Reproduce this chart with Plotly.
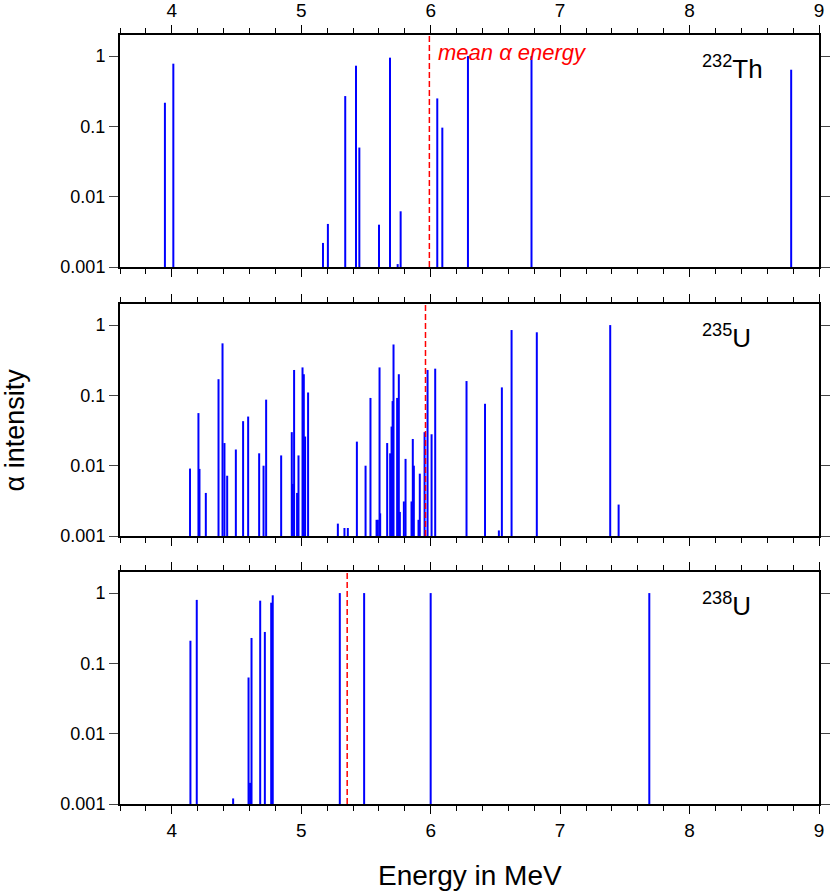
import plotly.graph_objects as go

# alpha lines per decay chain: energy (MeV) and relative intensity
th232_energy = [3.947, 4.012, 5.168, 5.206, 5.340, 5.423, 5.449, 5.601, 5.686,
                5.745, 5.768, 6.051, 6.090, 6.288, 6.779, 8.785]
th232_intensity = [0.217, 0.78, 0.0022, 0.0041, 0.27, 0.73, 0.05, 0.0040, 0.95,
                   0.0011, 0.0062, 0.25, 0.096, 1.0, 1.0, 0.64]

u235_energy = [4.141, 4.206, 4.214, 4.263, 4.361, 4.392, 4.407, 4.428, 4.495,
               4.551, 4.590, 4.675, 4.709, 4.729, 4.845, 4.927, 4.935, 4.945,
               4.968, 4.979, 5.010, 5.020, 5.030, 5.053, 5.283, 5.334, 5.360,
               5.430, 5.497, 5.535, 5.582, 5.592, 5.605, 5.610, 5.664, 5.687,
               5.698, 5.706, 5.713, 5.741, 5.754, 5.762, 5.793, 5.806, 5.852,
               5.862, 5.870, 5.906, 5.916, 5.953, 5.976, 6.007, 6.035, 6.277,
               6.420, 6.527, 6.550, 6.625, 6.820, 7.387, 7.452]
u235_intensity = [0.0091, 0.056, 0.009, 0.0041, 0.17, 0.55, 0.021, 0.0072, 0.017,
                  0.043, 0.050, 0.015, 0.010, 0.087, 0.014, 0.030, 0.0055, 0.23,
                  0.0041, 0.014, 0.25, 0.20, 0.026, 0.11, 0.0015, 0.0013, 0.0013,
                  0.022, 0.010, 0.092, 0.0017, 0.0017, 0.25, 0.0021, 0.021, 0.015,
                  0.036, 0.083, 0.53, 0.092, 0.20, 0.0022, 0.0031, 0.0125, 0.0031,
                  0.024, 0.010, 0.0017, 0.0077, 0.030, 0.23, 0.028, 0.24, 0.16,
                  0.076, 0.0012, 0.13, 0.85, 0.79, 1.0, 0.0028]

u238_energy = [4.144, 4.193, 4.474, 4.593, 4.605, 4.616, 4.683, 4.719, 4.768,
               4.780, 5.298, 5.486, 6.000, 7.689]
u238_intensity = [0.21, 0.80, 0.0012, 0.063, 0.002, 0.23, 0.78, 0.28, 0.73,
                  0.93, 1.0, 1.0, 1.0, 1.0]

mean_energy = [5.99, 5.96, 5.355]
isotopes = ["<sup>232</sup>Th", "<sup>235</sup>U", "<sup>238</sup>U"]

FLOOR = 0.001
FONT = "Liberation Sans, Arial, Helvetica, sans-serif"

panels = [(th232_energy, th232_intensity),
          (u235_energy, u235_intensity),
          (u238_energy, u238_intensity)]
domains = [[0.6983, 1.0], [0.3485, 0.6502], [0.0, 0.3017]]

fig = go.Figure()

for i, (energy, inten) in enumerate(panels):
    n = i + 1
    key = "" if n == 1 else str(n)
    xref, yref = f"x{key}", f"y{key}"

    xs, ys = [], []
    for e, v in zip(energy, inten):
        xs += [e, e, None]
        ys += [FLOOR, v, None]
    fig.add_trace(go.Scatter(
        x=xs, y=ys, mode="lines",
        line=dict(color="#0000ff", width=2),
        xaxis=xref, yaxis=yref,
        showlegend=False, hoverinfo="skip",
    ))

    fig.add_shape(type="line", xref=xref, yref=f"{yref} domain",
                  x0=mean_energy[i], x1=mean_energy[i], y0=0, y1=1,
                  line=dict(color="#ff0000", width=1.5, dash="6px,3px"))

    fig.add_annotation(x=0.83, y=0.86, xref=f"{xref} domain", yref=f"{yref} domain",
                       text=isotopes[i], showarrow=False, xanchor="left",
                       yanchor="middle", font=dict(family=FONT, size=26, color="black"))

    xaxis = dict(
        range=[3.6, 9], domain=[0, 1], anchor=yref, automargin=False,
        side="top" if n == 1 else "bottom", showticklabels=(n in (1, 3)),
        tickvals=[4, 5, 6, 7, 8, 9], ticks="outside", ticklen=8, tickwidth=1,
        tickcolor="black",
        minor=dict(dtick=0.2, tick0=0, ticks="outside", ticklen=5, tickwidth=1,
                   tickcolor="black"),
        showline=True, linewidth=2, linecolor="black", mirror="allticks",
        showgrid=False, zeroline=False,
        tickfont=dict(family=FONT, size=19, color="black"),
    )
    yaxis = dict(
        type="log", range=[-3, 0.3], domain=domains[i], anchor=xref, automargin=False,
        tickvals=[0.001, 0.01, 0.1, 1], ticktext=["0.001", "0.01", "0.1", "1"],
        ticks="outside", ticklen=9, tickwidth=1, tickcolor="#444",
        showline=True, linewidth=2, linecolor="black", mirror="allticks",
        showgrid=False, zeroline=False,
        tickfont=dict(family=FONT, size=18, color="black"),
    )
    fig.update_layout({f"xaxis{key}": xaxis, f"yaxis{key}": yaxis})

fig.add_annotation(x=6.04, y=0.985, xref="x", yref="y domain",
                   text="<i>mean α energy</i>", showarrow=False,
                   xanchor="left", yanchor="top",
                   font=dict(family=FONT, size=22, color="#ff0000"))

fig.add_annotation(x=0.5007, y=-0.0936, xref="paper", yref="paper",
                   text="Energy in MeV", showarrow=False,
                   xanchor="center", yanchor="middle",
                   font=dict(family=FONT, size=28, color="black"))
fig.add_annotation(x=-0.150, y=0.486, xref="paper", yref="paper",
                   text="α intensity", showarrow=False, textangle=-90,
                   xanchor="center", yanchor="middle",
                   font=dict(family=FONT, size=27, color="black"))

fig.update_layout(
    width=830, height=891,
    margin=dict(l=120, r=11, t=35, b=87),
    plot_bgcolor="white", paper_bgcolor="white",
)

# drop the browser's default 8px body margin so the figure fills the window
fig.write_html("out.html", config={"displayModeBar": False},
               post_script="document.body.style.margin='0';")
